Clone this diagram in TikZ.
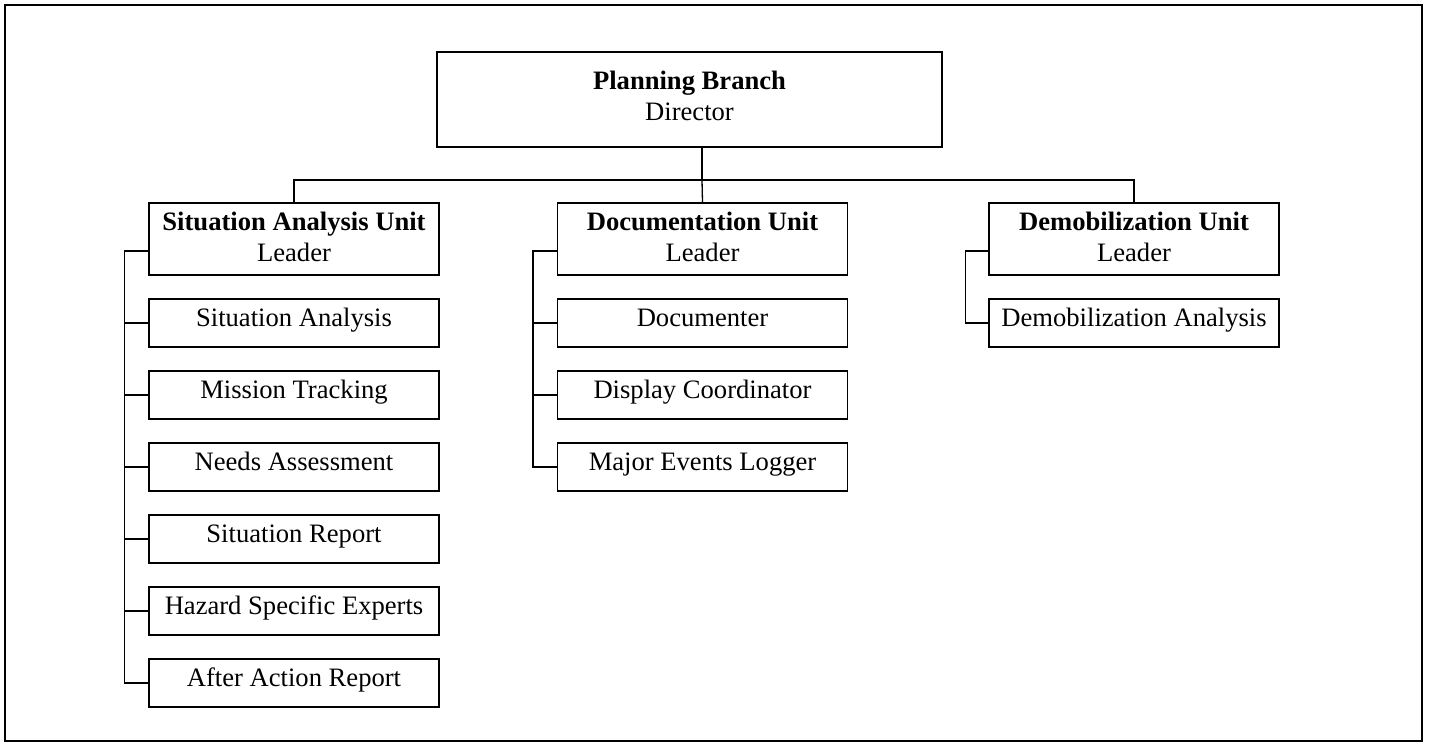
\documentclass[tikz,border=0pt]{standalone}
\usepackage{fontspec}
\setmainfont{Liberation Serif}
\begin{document}
\begin{tikzpicture}[x=0.5pt,y=-0.5pt,
  every node/.style={font=\fontsize{13.3}{15.5}\selectfont},
  box/.style={draw,line width=0.65pt,rectangle,inner sep=0pt,align=center},
  topbox/.style={box,minimum width=252.5pt,minimum height=47.5pt,text depth=4pt},
  unitbox/.style={box,minimum width=145pt,minimum height=36pt,text depth=2pt},
  childbox/.style={box,minimum width=145pt,minimum height=24pt,text height=9pt,text depth=6pt},
  link/.style={line width=0.65pt}]
\useasboundingbox (0,0) rectangle (1429,746);
\draw[line width=0.75pt] (5,5) rectangle (1422,741);

\node[topbox] (pb) at (689.5,99.5) {\textbf{Planning Branch}\\Director};
\coordinate (bus) at (702,180);

\node[unitbox] (sa) at (294,239) {\textbf{Situation Analysis Unit}\\Leader};
\node[unitbox] (du) at (702.5,239) {\textbf{Documentation Unit}\\Leader};
\node[unitbox] (dm) at (1134,239) {\textbf{Demobilization Unit}\\Leader};

\draw[link] (pb.south -| bus) -- (bus);
\draw[link] (sa.north) |- (bus) -| (dm.north);
\draw[link] (bus) -- (du.north);

% Situation Analysis children
\node[childbox] (s1) at (294,323) {Situation Analysis};
\node[childbox] (s2) at (294,395) {Mission Tracking};
\node[childbox] (s3) at (294,467) {Needs Assessment};
\node[childbox] (s4) at (294,539) {Situation Report};
\node[childbox] (s5) at (294,611) {Hazard Specific Experts};
\node[childbox] (s6) at (294,683) {After Action Report};

\draw[link] ([yshift=-6pt]sa.west) -- ++(-12pt,0) |- (s6.west);
\foreach \n in {s1,s2,s3,s4,s5} \draw[link] (\n.west) -- ++(-12pt,0);

% Documentation children
\node[childbox] (d1) at (702.5,323) {Documenter};
\node[childbox] (d2) at (702.5,395) {Display Coordinator};
\node[childbox] (d3) at (702.5,467) {Major Events Logger};

\draw[link] ([yshift=-6pt]du.west) -- ++(-12pt,0) |- (d3.west);
\foreach \n in {d1,d2} \draw[link] (\n.west) -- ++(-12pt,0);

% Demobilization children
\node[childbox] (m1) at (1134,323) {Demobilization Analysis};
\draw[link] ([yshift=-6pt]dm.west) -- ++(-11.5pt,0) |- (m1.west);
\end{tikzpicture}
\end{document}
